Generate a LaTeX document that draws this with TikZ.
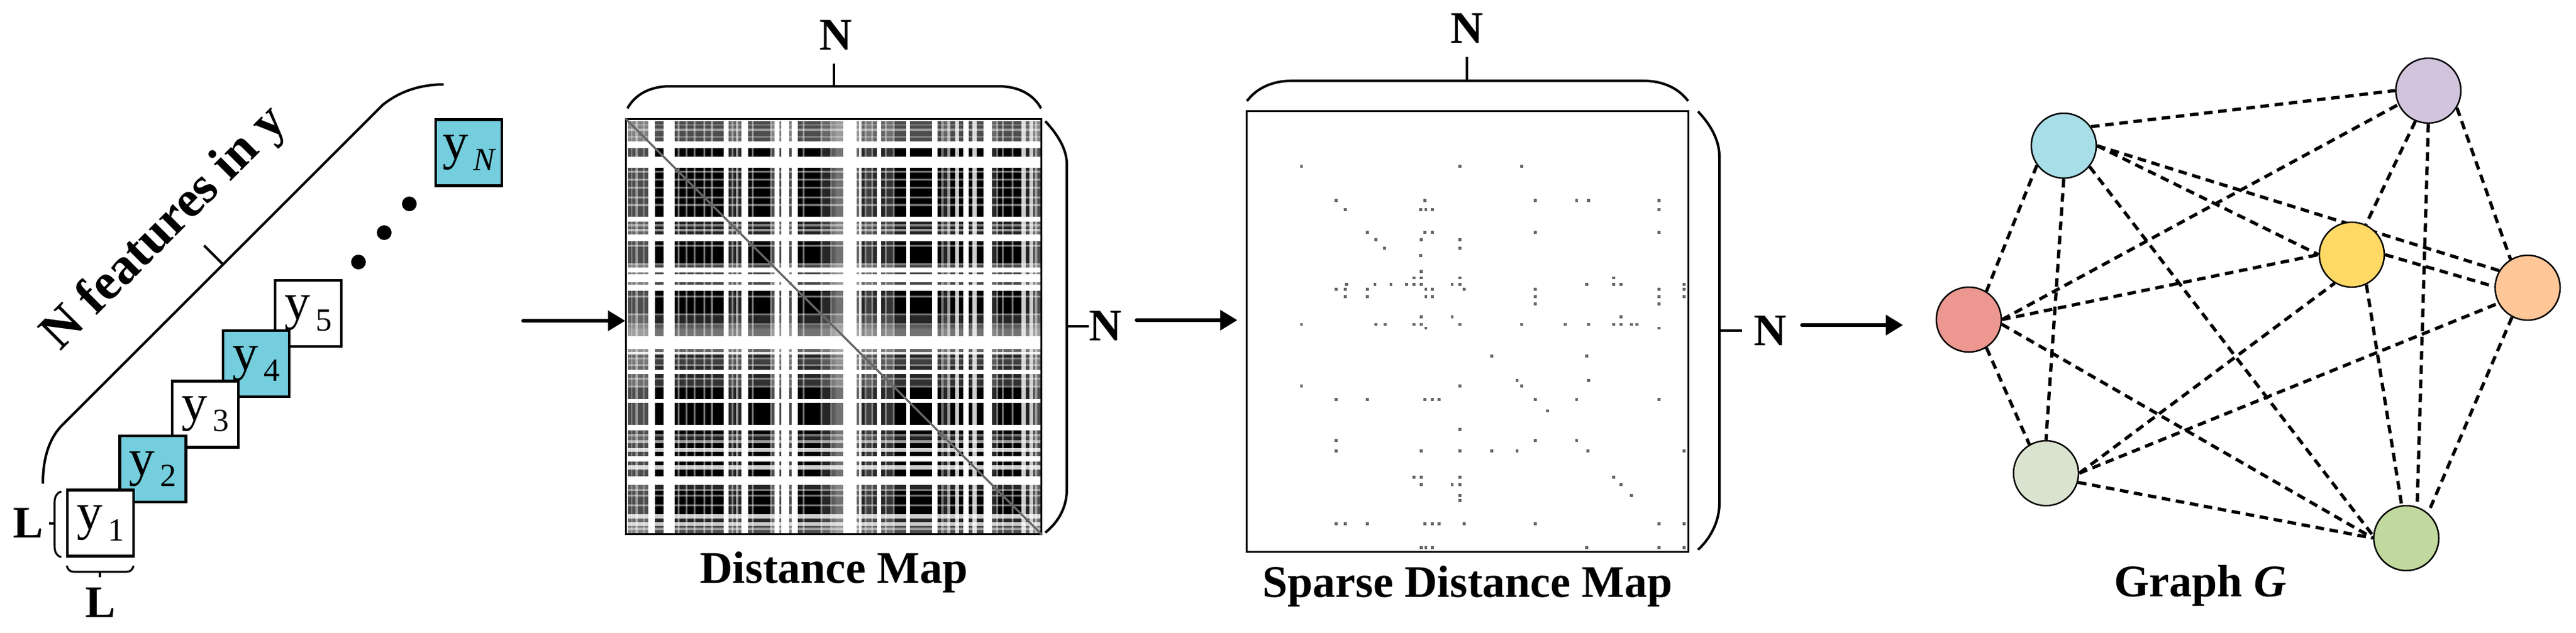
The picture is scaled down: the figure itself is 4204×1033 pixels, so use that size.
\documentclass[tikz,border=0pt]{standalone}
\usepackage{fontspec}
\setmainfont{Liberation Serif}
\usetikzlibrary{arrows.meta,backgrounds}
\definecolor{boxcyan}{RGB}{116,206,221}
\definecolor{ncyan}{RGB}{168,222,232}
\definecolor{npurple}{RGB}{210,196,220}
\definecolor{nred}{RGB}{236,152,144}
\definecolor{nyellow}{RGB}{255,217,102}
\definecolor{norange}{RGB}{255,198,152}
\definecolor{npale}{RGB}{218,227,207}
\definecolor{ngreen}{RGB}{193,216,158}
\newcommand{\ysub}[1]{y\kern0.1em\raisebox{-0.22em}{\fontsize{15}{15}\selectfont #1}}
\begin{document}
\begin{tikzpicture}[x=0.01cm, y=-0.01cm,
 ybox/.style={draw, line width=1.3pt, minimum size=1.08cm, inner sep=0pt, fill=white, font=\fontsize{24}{24}\selectfont},
 cbox/.style={ybox, fill=boxcyan},
 brk/.style={line width=1.15pt},
 thinbrk/.style={line width=0.9pt},
 arr/.style={line width=1.8pt, line cap=round, -{Triangle[length=0.28cm,width=0.32cm]}},
 lbl/.style={font=\fontsize{21}{25}\selectfont\bfseries, inner sep=0pt},
 gnode/.style={circle, draw, line width=0.7pt, minimum size=1.06cm, inner sep=0pt},
 gedge/.style={line width=1.5pt, dash pattern=on 4pt off 2.6pt},
 dmap/.style={draw, line width=0.8pt, inner sep=0pt}
]
\useasboundingbox (0,0) rectangle (4204,1033);

% ---------------- left: feature boxes ----------------
\node[cbox] (yN) at (765,249.5) {y\kern0.1em\raisebox{-0.22em}{\fontsize{15}{15}\selectfont\itshape N}};
\node[ybox] (y5) at (503,512) {\ysub{5}};
\node[cbox] (y4) at (418,594) {\ysub{4}};
\node[ybox] (y3) at (335,676.5) {\ysub{3}};
\node[cbox] (y2) at (249.5,766) {\ysub{2}};
\node[ybox] (y1) at (164,854.5) {\ysub{1}};

\fill (585,428) circle[radius=0.12cm];
\fill (627,380) circle[radius=0.12cm];
\fill (668,333) circle[radius=0.12cm];

% big bracket
\draw[brk] (70,790) .. controls (70,745) and (82,712) .. (105,691) -- (625,171) .. controls (655,147) and (690,138) .. (724,138);
\draw[brk] (364,432) -- (333,401);
\node[lbl, font=\fontsize{24}{28}\selectfont\bfseries, rotate=45] (nf) at (270,374) {N features in y};

% L braces
\draw[thinbrk] (100,803) .. controls (92,805) and (89,812) .. (89,822) -- (89,890) .. controls (89,902) and (92,908) .. (100,910);
\draw[thinbrk] (89,855) -- (80,855);
\node[lbl] (Lleft) at (46,854) {L};
\draw[thinbrk] (109,924) .. controls (111,931) and (114,934) .. (121,934) -- (206,934) .. controls (213,934) and (216,931) .. (218,924);
\draw[thinbrk] (163,934) -- (163,943);
\node[lbl] (Lbot) at (164,984) {L};

% ---------------- distance map ----------------
\fill[black] (1022,195) rectangle (1699,872);
\begin{scope}[shift={(1022,195)}, scale=0.63748]
\foreach \a/\b/\o in {348/352/1, 352/360/.3, 360/363/.5, 363/372/.3, 372/378/.6, 378/390/.3, 390/395/.5, 395/405/.3, 405/422/1, 443/472/1, 480/485/.45, 500/505/.45, 520/525/.45, 545/550/.45, 565/570/.45, 598/610/1, 610/617/.15, 617/622/.5, 622/628/.15, 628/635/.6, 635/643/.15, 643/660/1, 670/675/.45, 717/722/.5, 722/728/.3, 728/740/1, 740/745/.3, 745/765/1, 765/772/.3, 772/787/1, 800/805/.45, 845/850/.45, 850/870/.15, 870/875/.45, 875/882/.35, 882/885/.4, 885/903/.45, 903/937/1, 937/944/.4, 944/950/.9, 950/958/.15, 958/963/.5, 963/975/.25, 975/980/.5, 980/990/.15, 990/1000/1, 1000/1010/.15, 1010/1015/.5, 1015/1030/.2, 1030/1035/.45, 1065/1075/1, 1130/1145/1, 1155/1160/.45, 1160/1170/.15, 1170/1178/.6, 1190/1200/.8, 1210/1225/1, 1235/1245/.8, 1262/1285/1, 1285/1295/.15, 1295/1300/.45, 1310/1315/.45, 1335/1340/.45, 1360/1370/.8, 1370/1380/.15, 1380/1390/.8, 1390/1395/.3, 1395/1400/.6, 1400/1408/.3, 1408/1410/1}
{
  \fill[white, fill opacity=\o] (\a-348,0) rectangle (\b-348,1062);
  \fill[white, fill opacity=\o] (0,\a-348) rectangle (1062,\b-348);
}
\end{scope}
\node[dmap, minimum size=6.77cm] (dm) at (1360.5,533.5) {};
\draw[black!60, line width=1pt] (dm.north west) -- (dm.south east);

\draw[brk] (1024,177) .. controls (1036,155) and (1060,141) .. (1093,141) -- (1630,141) .. controls (1663,141) and (1687,155) .. (1699,177);
\draw[brk] (1361,141) -- (1361,104);
\node[lbl] (dmN1) at (1364,57) {N};
\draw[brk] (1706,198) .. controls (1728,222) and (1741,245) .. (1741,268) -- (1741,800) .. controls (1741,828) and (1728,852) .. (1706,870);
\draw[brk] (1741,533) -- (1777,533);
\node[lbl] (dmN2) at (1804,532) {N};
\node[lbl, anchor=base] (dml) at (1361,952) {Distance Map};

\coordinate (a1) at (854,524);
\draw[arr] (a1) -- (a1 -| dm.west);

% ---------------- sparse distance map ----------------
\begin{scope}[shift={(1950,80)}, xscale=0.606, yscale=0.608]
\foreach \r/\cs in {315/{287,713,880}, 407/{380,620,917,1028,1060,1250}, 432/{405,608,622,640,1250}, 493/{465,620,640,917,1250}, 512/{487,610,713}, 535/{510,713}, 555/{608}, 598/{610}, 615/{590,610,713,1128}, 633/{408,485,528,570,590,610,693,713,1055,1128,1148,1318}, 646/{380,405,465,622,640,725,917,1250,1318}, 665/{405,465,622,640,917,1250,1318}, 685/{917,1250}, 720/{610,693,1148}, 740/{287,487,512,590,610,713,880,997,1060,1128,1148,1175,1190}, 750/{622,1250}, 825/{800,1055}, 890/{868,1060}, 905/{287,713,880}, 942/{380,465,620,640,657,917,1028,1250}, 972/{950}, 1022/{713}, 1052/{380,917,1028}, 1080/{380,610,713,800,868,1058,1318}, 1150/{590,610,713,1128}, 1170/{610,693,713,1148}, 1200/{713,1175}, 1213/{713}, 1275/{380,405,465,620,640,657,725,917,1250,1318}, 1340/{610,622,640,1055,1250,1318}}
{
  \foreach \c in \cs { \fill[black!60] (\c-4,\r-4) rectangle +(8,8); }
}
\end{scope}
\node[dmap, minimum width=7.2cm, minimum height=7.19cm] (sm) at (2395,541.5) {};

\draw[brk] (2035,165) .. controls (2050,145) and (2075,132) .. (2108,132) -- (2682,132) .. controls (2715,132) and (2740,145) .. (2755,165);
\draw[brk] (2394,132) -- (2394,93);
\node[lbl] (smN1) at (2394,46) {N};
\draw[brk] (2771,182) .. controls (2793,205) and (2806,230) .. (2806,256) -- (2806,822) .. controls (2806,850) and (2793,878) .. (2771,898);
\draw[brk] (2806,540) -- (2843,540);
\node[lbl] (smN2) at (2889,540) {N};
\node[lbl, anchor=base] (sml) at (2395,975) {Sparse Distance Map};

\coordinate (a2) at (1855,523);
\draw[arr, shorten >=0.14cm] (a2) -- (a2 -| sm.west);

% ---------------- graph ----------------
\node[gnode, fill=ncyan] (nc) at (3368,238) {};
\node[gnode, fill=npurple] (np) at (3963,148) {};
\node[gnode, fill=nred] (nr) at (3213,522) {};
\node[gnode, fill=nyellow] (ny) at (3838,416) {};
\node[gnode, fill=norange] (no) at (4125,470) {};
\node[gnode, fill=npale] (nl) at (3339,773) {};
\node[gnode, fill=ngreen] (ng) at (3927,879) {};
\node[lbl, anchor=base] (gl) at (3591,974) {Graph \textit{G}};

\coordinate (a3) at (2941,531);
\draw[arr, shorten >=0.53cm] (a3) -- (a3 -| nr.west);

\begin{pgfonlayer}{background}
\draw[gedge] (nc.35) -- (np.180);
\draw[gedge] (nc.216) -- (nr.58);
\draw[gedge] (nc.south) -- (nl.north);
\draw[gedge] (nc.321) -- (ng.176);
\draw[gedge] (nc.east) -- (ny.west);
\draw[gedge] (nc.east) -- (no.149);
\draw[gedge] (nr.east) -- (np.205);
\draw[gedge] (nr.east) -- (ny.west);
\draw[gedge] (nr.302) -- (nl.120);
\draw[gedge] (nr.-8) -- (ng.west);
\draw[gedge] (nl.east) -- (ny.239);
\draw[gedge] (nl.east) -- (no.208);
\draw[gedge] (nl.-16) -- (ng.west);
\draw[gedge] (np.247) -- (ny.65);
\draw[gedge] (np.south) -- (ng.71);
\draw[gedge] (np.-31) -- (no.121);
\draw[gedge] (ny.-64) -- (ng.98);
\draw[gedge] (no.242) -- (ng.49);
\draw[gedge] (ny.east) -- (no.178);
\end{pgfonlayer}
\end{tikzpicture}
\end{document}
